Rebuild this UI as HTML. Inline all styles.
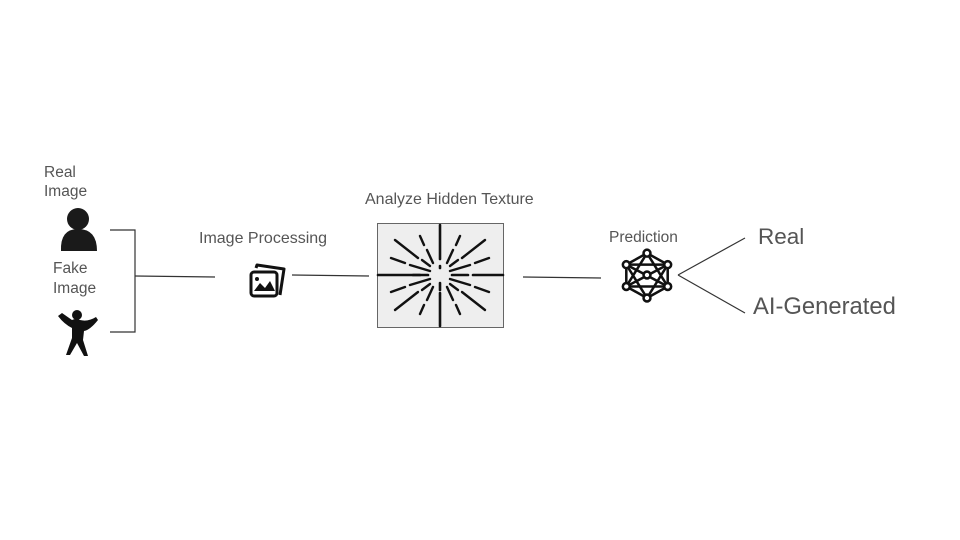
<!DOCTYPE html>
<html><head><style>
html,body{margin:0;padding:0;background:#fff;}
svg{display:block;}
text{font-family:"Liberation Sans",Arial,sans-serif;fill:#555;}
</style></head><body>
<svg width="960" height="540" viewBox="0 0 960 540" xmlns="http://www.w3.org/2000/svg">
<g font-size="15.5">
<text x="44" y="177">Real</text>
<text x="44" y="196">Image</text>
<text x="53" y="273">Fake</text>
<text x="53" y="293">Image</text>
<text x="199" y="243" font-size="16">Image Processing</text>
<text x="365" y="204" font-size="16">Analyze Hidden Texture</text>
<text x="609" y="242" font-size="15.5">Prediction</text>
</g>
<text x="758" y="244" font-size="22.5">Real</text>
<text x="753" y="314" font-size="23.8">AI-Generated</text>

<!-- connectors -->
<g stroke="#333" stroke-width="1.2" fill="none">
<polyline points="110,230 135,230 135,332 110,332"/>
<line x1="135" y1="276" x2="215" y2="277"/>
<line x1="292" y1="275" x2="369" y2="276"/>
<line x1="523" y1="277" x2="601" y2="278"/>
<line x1="678" y1="275" x2="745" y2="238"/>
<line x1="678" y1="275" x2="745" y2="313"/>
</g>

<!-- real person -->
<g fill="#1a1a1a">
<circle cx="78" cy="219" r="11"/>
<path d="M61,251 Q60,229 78,229 Q97,229 97,251 Z"/>
</g>
<!-- fake figure -->
<path fill="#111" d="M58,316 L62,313 L72,320 Q76,318 80,320 Q88,322 96,317 L98,320 Q90,330 84,331 L83,340 L88,356 L84,356 L77,343 L70,355 L66,355 L72,338 L72,328 Q64,324 58,316 Z"/>
<circle cx="77" cy="315" r="5" fill="#111"/>

<!-- image icon -->
<g stroke="#111" stroke-width="3" fill="none" stroke-linejoin="round">
<path d="M256,268 L257,265 L284,269 L280,295"/>
<rect x="251" y="272" width="26" height="24" rx="3"/>
</g>
<path d="M254,291 L260,283 L265,288 L270,281 L275,291 Z" fill="#111"/>
<circle cx="257" cy="279" r="2" fill="#111"/>

<!-- texture box -->
<rect x="377.5" y="223.5" width="126" height="104" fill="#eee" stroke="#666"/>
<g stroke="#111" stroke-width="2.6" stroke-linecap="round">
<line x1="440" y1="225" x2="440" y2="259"/>
<line x1="440" y1="266" x2="440" y2="268"/>
<line x1="440" y1="283" x2="440" y2="290"/>
<line x1="440" y1="293" x2="440" y2="326"/>
<line x1="378" y1="275" x2="420" y2="275"/>
<line x1="413" y1="275" x2="428" y2="275"/>
<line x1="452" y1="275" x2="468" y2="275"/>
<line x1="473" y1="275" x2="503" y2="275"/>
</g>
<g stroke="#111" stroke-width="2.4" stroke-linecap="round">
<line x1="395" y1="240" x2="418" y2="258"/><line x1="422" y1="260" x2="430" y2="266"/>
<line x1="485" y1="240" x2="462" y2="258"/><line x1="458" y1="260" x2="450" y2="266"/>
<line x1="395" y1="310" x2="418" y2="292"/><line x1="422" y1="290" x2="430" y2="284"/>
<line x1="485" y1="310" x2="462" y2="292"/><line x1="458" y1="290" x2="450" y2="284"/>
<line x1="420" y1="236" x2="424" y2="245"/><line x1="427" y1="250" x2="433" y2="263"/>
<line x1="460" y1="236" x2="456" y2="245"/><line x1="453" y1="250" x2="447" y2="263"/>
<line x1="420" y1="314" x2="424" y2="305"/><line x1="427" y1="300" x2="433" y2="287"/>
<line x1="460" y1="314" x2="456" y2="305"/><line x1="453" y1="300" x2="447" y2="287"/>
<line x1="391" y1="258" x2="405" y2="263"/><line x1="410" y1="265" x2="430" y2="271"/>
<line x1="489" y1="258" x2="475" y2="263"/><line x1="470" y1="265" x2="450" y2="271"/>
<line x1="391" y1="292" x2="405" y2="287"/><line x1="410" y1="285" x2="430" y2="279"/>
<line x1="489" y1="292" x2="475" y2="287"/><line x1="470" y1="285" x2="450" y2="279"/>
</g>

<!-- network icon -->
<g transform="translate(647,275) scale(1.15) translate(-647,-275)">
<g stroke="#111" stroke-width="2.2" fill="none">
<path d="M647,256 L665,266 L665,285 L647,295 L629,285 L629,266 Z"/>
<path d="M647,256 L665,285 L629,285 Z"/>
<path d="M647,295 L629,266 L665,266 Z"/>
<line x1="629" y1="266" x2="665" y2="285"/>
<line x1="665" y1="266" x2="629" y2="285"/>
</g>
<g fill="#fff" stroke="#111" stroke-width="2.2">
<circle cx="647" cy="256" r="3"/><circle cx="665" cy="266" r="3"/><circle cx="665" cy="285" r="3"/>
<circle cx="647" cy="295" r="3"/><circle cx="629" cy="285" r="3"/><circle cx="629" cy="266" r="3"/>
<circle cx="647" cy="275" r="3"/>
</g>
</g>
</svg>
</body></html>
